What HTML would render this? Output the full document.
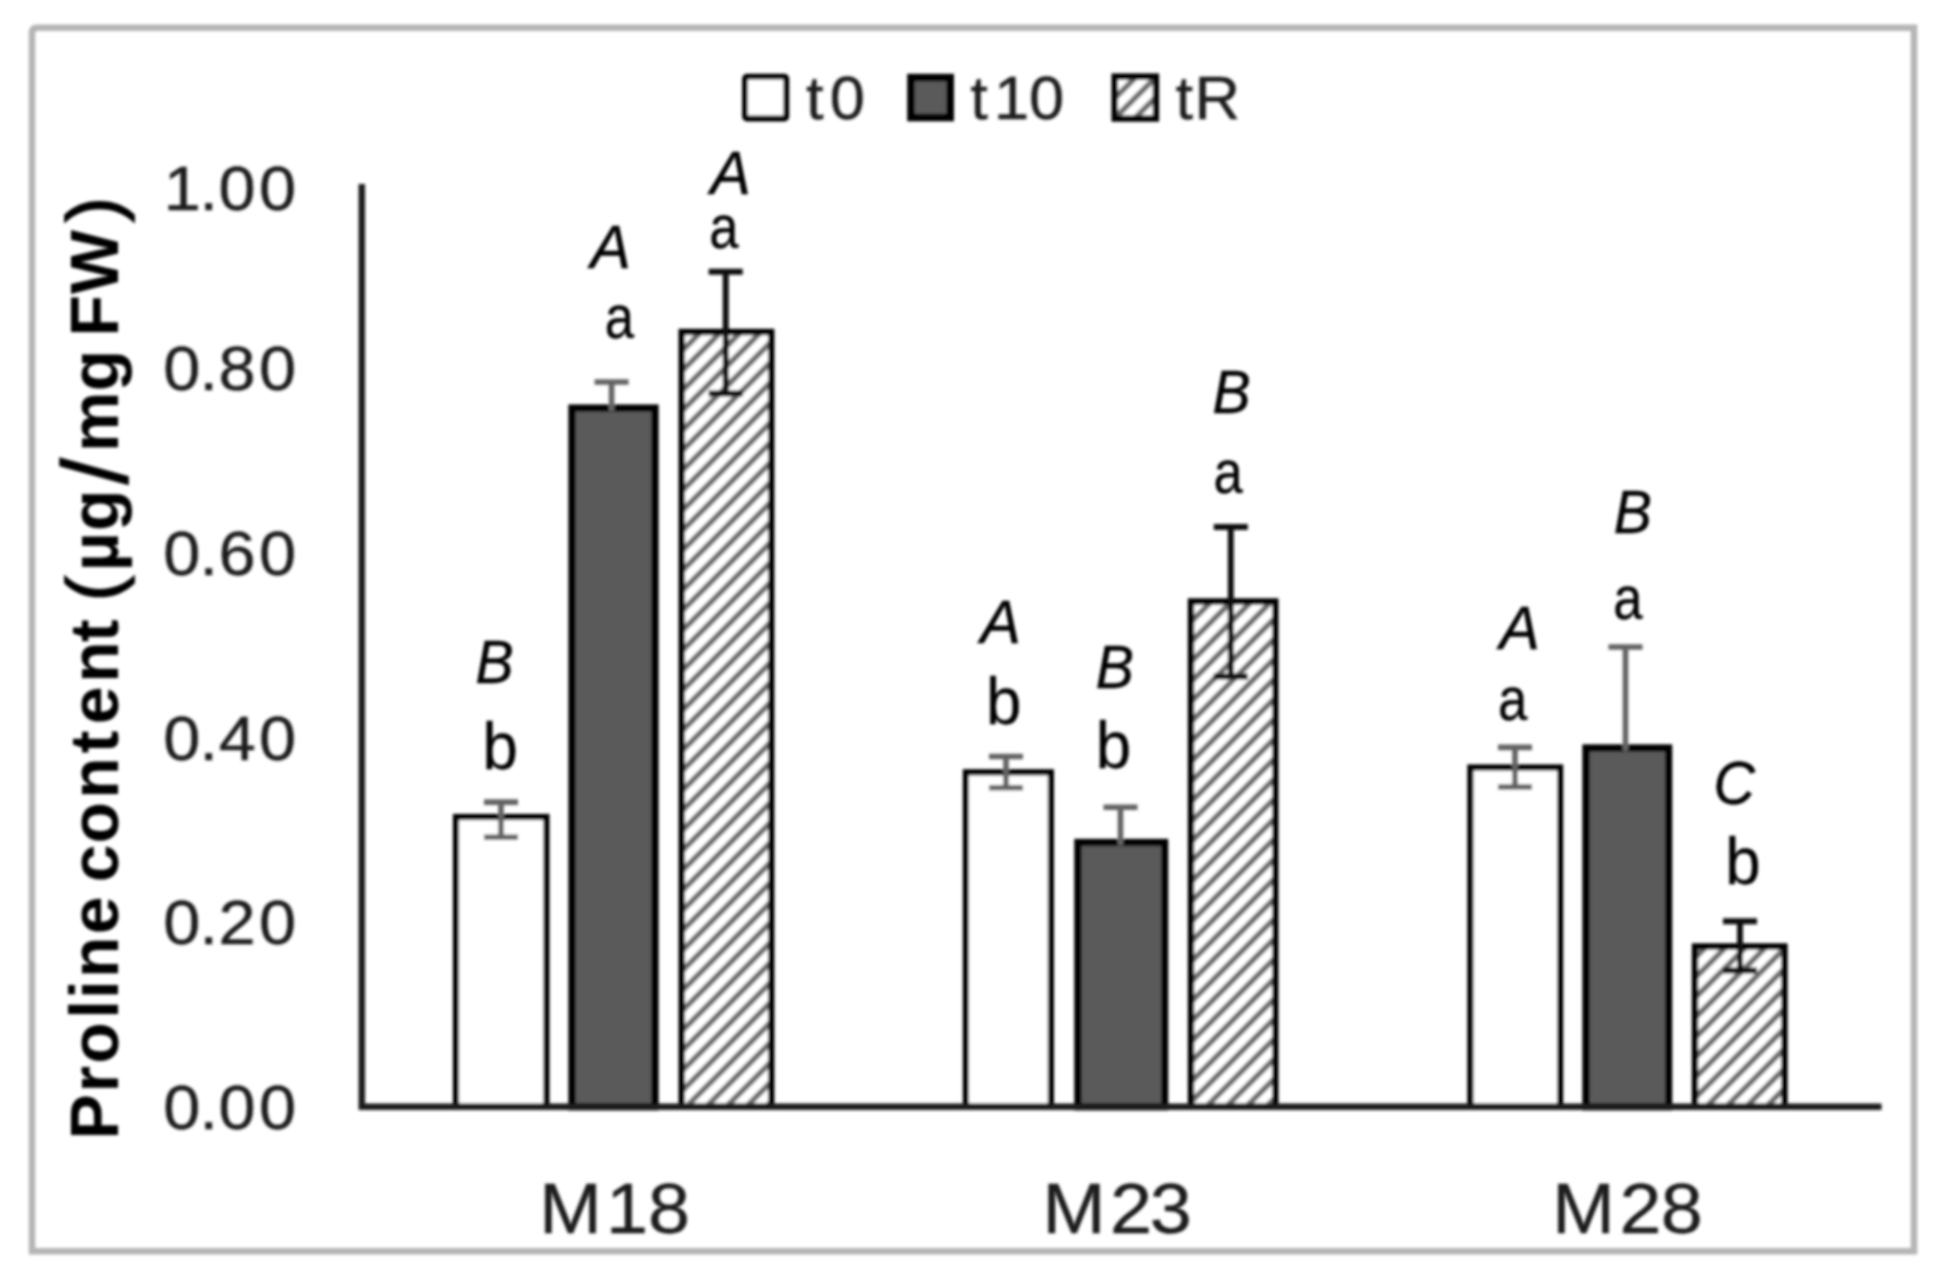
<!DOCTYPE html>
<html lang="en"><head><meta charset="utf-8"><title>Proline content</title>
<style>html,body{margin:0;padding:0;background:#fff}body{width:1945px;height:1276px;overflow:hidden}svg{display:block}text{font-family:"Liberation Sans", sans-serif}</style>
</head><body>
<svg width="1945" height="1276" viewBox="0 0 1945 1276">
<defs>
<filter id="bl" x="0" y="0" width="1945" height="1276" filterUnits="userSpaceOnUse"><feGaussianBlur stdDeviation="1.7"/></filter>
<pattern id="hatch" width="20" height="20" patternUnits="userSpaceOnUse" x="13" y="0">
<rect width="20" height="20" fill="#fff"/>
<path d="M-5 25L25 -5M-5 5L5 -5M15 25L25 15" stroke="#6e6e6e" stroke-width="5.6" fill="none"/>
</pattern>
</defs>
<rect width="1945" height="1276" fill="#fff"/>
<g filter="url(#bl)">
<path d="M32 1251.3V32.8Q32 27.8 37 27.8H1914V1251.3Z" fill="none" stroke="#b5b5b5" stroke-width="6.6" stroke-linejoin="miter"/>
<rect x="456.0" y="817.0" width="90.4" height="289.8" fill="#fff" stroke="#000" stroke-width="6.2" stroke-linejoin="miter"/>
<rect x="572.0" y="408.1" width="83.0" height="698.7" fill="#5a5a5a" stroke="#000" stroke-width="7.3" stroke-linejoin="miter"/>
<rect x="681.7" y="332.0" width="89.5" height="774.8" fill="url(#hatch)" stroke="#000" stroke-width="6.4" stroke-linejoin="miter"/>
<rect x="965.9" y="772.3" width="85.0" height="334.5" fill="#fff" stroke="#000" stroke-width="6.2" stroke-linejoin="miter"/>
<rect x="1077.9" y="842.5" width="86.7" height="264.3" fill="#5a5a5a" stroke="#000" stroke-width="7.3" stroke-linejoin="miter"/>
<rect x="1191.0" y="601.5" width="84.3" height="505.3" fill="url(#hatch)" stroke="#000" stroke-width="6.4" stroke-linejoin="miter"/>
<rect x="1470.4" y="767.5" width="89.7" height="339.3" fill="#fff" stroke="#000" stroke-width="6.2" stroke-linejoin="miter"/>
<rect x="1586.0" y="748.0" width="82.6" height="358.8" fill="#5a5a5a" stroke="#000" stroke-width="7.3" stroke-linejoin="miter"/>
<rect x="1695.0" y="946.5" width="89.4" height="160.3" fill="url(#hatch)" stroke="#000" stroke-width="6.4" stroke-linejoin="miter"/>
<path d="M361.8 184V1106.8H1881.5" fill="none" stroke="#1c1c1c" stroke-width="6.5"/>
<path d="M501.0 802.1V837.2M484.0 802.1H518.0M484.0 837.2H518.0" fill="none" stroke="#636363" stroke-width="5.6"/>
<path d="M611.6 382.0V411.1M594.6 382.0H628.6" fill="none" stroke="#636363" stroke-width="5.6"/>
<path d="M725.7 271.7V393.5M708.7 271.7H742.7M708.7 393.5H742.7" fill="none" stroke="#0a0a0a" stroke-width="5.9"/>
<path d="M1006.0 756.5V787.8M989.0 756.5H1023.0M989.0 787.8H1023.0" fill="none" stroke="#636363" stroke-width="5.6"/>
<path d="M1120.5 807.2V845.5M1103.5 807.2H1137.5" fill="none" stroke="#636363" stroke-width="5.6"/>
<path d="M1230.8 527.0V676.5M1213.8 527.0H1247.8M1213.8 676.5H1247.8" fill="none" stroke="#0a0a0a" stroke-width="5.9"/>
<path d="M1515.0 747.4V787.0M1498.0 747.4H1532.0M1498.0 787.0H1532.0" fill="none" stroke="#636363" stroke-width="5.6"/>
<path d="M1625.5 647.0V751.0M1608.5 647.0H1642.5" fill="none" stroke="#636363" stroke-width="5.6"/>
<path d="M1740.0 921.3V970.5M1723.0 921.3H1757.0M1723.0 970.5H1757.0" fill="none" stroke="#0a0a0a" stroke-width="5.9"/>
<text transform="translate(0 209.5) scale(1.050 1)" x="155.9 190.0 208.2 246.6" font-size="63.5" fill="#1e1e1e" stroke="#1e1e1e" stroke-width="0.45">1.00</text>
<text transform="translate(0 390.0) scale(1.050 1)" x="155.6 190.0 208.2 246.6" font-size="63.5" fill="#1e1e1e" stroke="#1e1e1e" stroke-width="0.45">0.80</text>
<text transform="translate(0 575.0) scale(1.050 1)" x="155.6 190.0 208.0 246.6" font-size="63.5" fill="#1e1e1e" stroke="#1e1e1e" stroke-width="0.45">0.60</text>
<text transform="translate(0 759.6) scale(1.050 1)" x="155.6 190.0 208.4 246.6" font-size="63.5" fill="#1e1e1e" stroke="#1e1e1e" stroke-width="0.45">0.40</text>
<text transform="translate(0 944.4) scale(1.050 1)" x="155.6 190.0 208.2 246.6" font-size="63.5" fill="#1e1e1e" stroke="#1e1e1e" stroke-width="0.45">0.20</text>
<text transform="translate(0 1129.0) scale(1.050 1)" x="155.6 190.0 208.2 246.6" font-size="63.5" fill="#1e1e1e" stroke="#1e1e1e" stroke-width="0.45">0.00</text>
<text transform="translate(0 1233.3) scale(1.080 1)" x="499.0 561.1 599.9" font-size="70.0" fill="#1e1e1e" stroke="#1e1e1e" stroke-width="0.45">M18</text>
<text transform="translate(0 1233.3) scale(1.080 1)" x="965.3 1027.9 1064.5" font-size="70.0" fill="#1e1e1e" stroke="#1e1e1e" stroke-width="0.45">M23</text>
<text transform="translate(0 1233.3) scale(1.080 1)" x="1437.0 1499.6 1537.7" font-size="70.0" fill="#1e1e1e" stroke="#1e1e1e" stroke-width="0.45">M28</text>
<text transform="translate(0 683.0) scale(0.930 1)" x="511.3" font-size="61.5" fill="#000" font-style="italic" stroke="#000" stroke-width="0.50">B</text>
<text transform="translate(0 768.5) scale(0.950 1)" x="507.8" font-size="67.0" fill="#000" stroke="#000" stroke-width="0.35">b</text>
<text transform="translate(0 267.5) scale(1.000 1)" x="590.4" font-size="60.5" fill="#000" font-style="italic" stroke="#000" stroke-width="0.50">A</text>
<text transform="translate(0 338.0) scale(0.850 1)" x="711.4" font-size="62.0" fill="#000" stroke="#000" stroke-width="0.35">a</text>
<text transform="translate(0 193.5) scale(1.000 1)" x="710.4" font-size="60.5" fill="#000" font-style="italic" stroke="#000" stroke-width="0.50">A</text>
<text transform="translate(0 247.5) scale(0.850 1)" x="834.4" font-size="62.0" fill="#000" stroke="#000" stroke-width="0.35">a</text>
<text transform="translate(0 643.0) scale(1.000 1)" x="980.4" font-size="60.5" fill="#000" font-style="italic" stroke="#000" stroke-width="0.50">A</text>
<text transform="translate(0 723.5) scale(0.950 1)" x="1037.9" font-size="67.0" fill="#000" stroke="#000" stroke-width="0.35">b</text>
<text transform="translate(0 687.5) scale(0.930 1)" x="1178.2" font-size="61.5" fill="#000" font-style="italic" stroke="#000" stroke-width="0.50">B</text>
<text transform="translate(0 768.0) scale(0.950 1)" x="1153.5" font-size="67.0" fill="#000" stroke="#000" stroke-width="0.35">b</text>
<text transform="translate(0 412.5) scale(0.930 1)" x="1303.8" font-size="61.5" fill="#000" font-style="italic" stroke="#000" stroke-width="0.50">B</text>
<text transform="translate(0 493.0) scale(0.850 1)" x="1427.7" font-size="62.0" fill="#000" stroke="#000" stroke-width="0.35">a</text>
<text transform="translate(0 648.7) scale(1.000 1)" x="1499.6" font-size="60.5" fill="#000" font-style="italic" stroke="#000" stroke-width="0.50">A</text>
<text transform="translate(0 720.0) scale(0.850 1)" x="1762.3" font-size="62.0" fill="#000" stroke="#000" stroke-width="0.35">a</text>
<text transform="translate(0 533.0) scale(0.930 1)" x="1735.3" font-size="61.5" fill="#000" font-style="italic" stroke="#000" stroke-width="0.50">B</text>
<text transform="translate(0 619.0) scale(0.850 1)" x="1897.9" font-size="62.0" fill="#000" stroke="#000" stroke-width="0.35">a</text>
<text transform="translate(0 804.0) scale(0.950 1)" x="1803.6" font-size="60.5" fill="#000" font-style="italic" stroke="#000" stroke-width="0.50">C</text>
<text transform="translate(0 884.0) scale(0.950 1)" x="1816.1" font-size="67.0" fill="#000" stroke="#000" stroke-width="0.35">b</text>
<rect x="745" y="76.6" width="41.3" height="41.9" rx="2" fill="#fff" stroke="#000" stroke-width="5.8"/>
<text transform="translate(0 118.6) scale(1.020 1)" x="790.1 813.4" font-size="62.0" fill="#1e1e1e" stroke="#1e1e1e" stroke-width="0.45">t0</text>
<rect x="911" y="77.6" width="39.2" height="39.9" fill="#5a5a5a" stroke="#000" stroke-width="7.6"/>
<text transform="translate(0 118.6) scale(1.020 1)" x="951.2 974.6 1008.9" font-size="62.0" fill="#1e1e1e" stroke="#1e1e1e" stroke-width="0.45">t10</text>
<rect x="1114.7" y="76.6" width="41.2" height="41.9" fill="url(#hatch)" stroke="#000" stroke-width="6.4"/>
<text transform="translate(0 118.6) scale(1.020 1)" x="1152.5 1171.1" font-size="62.0" fill="#1e1e1e" stroke="#1e1e1e" stroke-width="0.45">tR</text>
<text transform="translate(118.3 0) rotate(-90)" x="-1139.5 -1092.6 -1063.8 -1018.8 -998.9 -978.1 -934.2 -896.4 -882.3 -843.5 -798.7 -753.3 -724.2 -682.8 -642.0 -619.4 -601.1 -571.2 -530.9 -484.2 -452.1 -391.3 -349.8 -336.5 -293.9 -222.1" y="0 0 0 0 0 0 0 0 0 0 0 0 0 0 0 0 0.5 0 0 9 0 0 0 0 0 0.5" font-size="68.0" font-weight="bold" fill="#000">Proline content <tspan font-size="74.6" font-weight="normal" stroke="#000" stroke-width="1.8">(</tspan>µg<tspan font-size="93.0" font-weight="normal" stroke="#000" stroke-width="1.6">/</tspan>mg FW<tspan font-size="74.6" font-weight="normal" stroke="#000" stroke-width="1.8">)</tspan></text>
</g>
</svg>
</body></html>
